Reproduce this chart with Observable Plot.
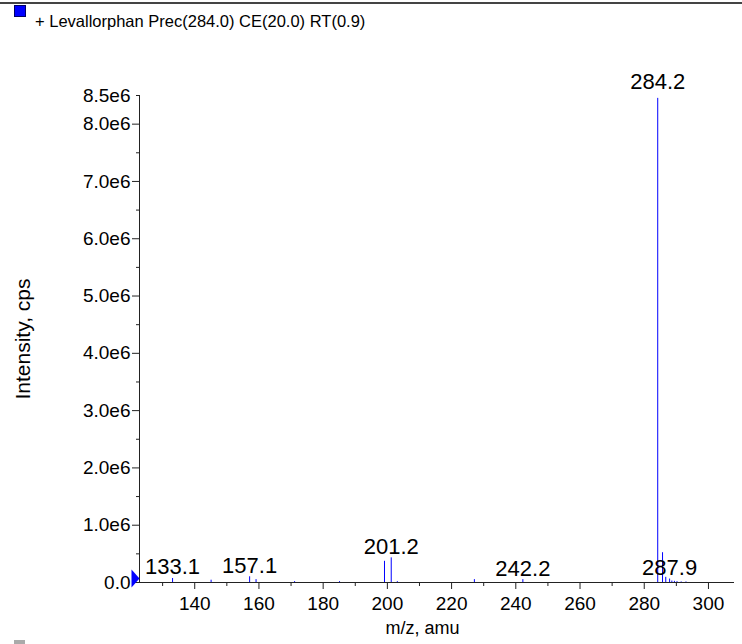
<!DOCTYPE html>
<html><head><meta charset="utf-8">
<script src="https://cdn.jsdelivr.net/npm/d3@7"></script>
<script src="https://cdn.jsdelivr.net/npm/@observablehq/plot@0.6"></script>
<style>
body{margin:0;background:#fff;font-family:"Liberation Sans",Arial,Helvetica,sans-serif;}
#wrap{position:relative;width:742px;height:644px;overflow:hidden;background:#fff;}
#topline{position:absolute;left:0;top:2px;width:742px;height:2px;background:#444;}
#sw{position:absolute;left:14px;top:5px;width:10px;height:10px;background:#0000ff;border:1px solid #000066;}
#sw2{position:absolute;left:14px;top:640px;width:11px;height:4px;background:#aaa;}
#title{position:absolute;left:35px;top:11px;font-size:16.5px;line-height:20px;color:#000;white-space:nowrap;}
#chart{position:absolute;left:0;top:0;}
</style></head><body>
<div id="wrap">
  <div id="topline"></div>
  <div id="sw"></div>
  <div id="title">+ Levallorphan Prec(284.0) CE(20.0) RT(0.9)</div>
  <div id="sw2"></div>
  <div id="chart"></div>
</div>
<script>
// peaks
const mz        = [133.1, 145.1, 157.1, 159.1, 171.1, 185.1, 199.1, 201.2, 203.1, 227.1, 242.2, 284.2, 285.7, 286.7, 287.9, 288.6, 289.4, 290.2, 291.5, 293.0];
const intensity = [7e4,   4e4,   1.0e5, 5e4,   1.5e4, 1.5e4, 3.7e5, 4.3e5, 1.5e4, 5e4,   5e4,   8.45e6, 5.2e5, 9e4,  6e4,   2.5e4, 2e4,   1.5e4, 1e4,   1e4];
// annotated peaks
const labelMz        = [133.1, 157.1, 201.2, 242.2, 284.2, 287.9];
const labelIntensity = [7e4,   1.0e5, 4.3e5, 5e4,   8.45e6, 6e4];
// ticks
const xDomain = [122.8, 307.8];
const yDomain = [0, 8.5e6];
const xMajorTicks = [140, 160, 180, 200, 220, 240, 260, 280, 300];
const xMinorTicks = [130, 150, 170, 190, 210, 230, 250, 270, 290];
const yMajorTicks = [0, 1e6, 2e6, 3e6, 4e6, 5e6, 6e6, 7e6, 8e6];
const yMinorTicks = [0.5e6, 1.5e6, 2.5e6, 3.5e6, 4.5e6, 5.5e6, 6.5e6, 7.5e6, 8.5e6];
const yLabelTicks = [0, 1e6, 2e6, 3e6, 4e6, 5e6, 6e6, 7e6, 8e6, 8.5e6];
const yFmt = d => d === 0 ? "0.0" : (d / 1e6).toFixed(1) + "e6";

const peaks = mz.map((m, i) => ({mz: m, intensity: intensity[i]}));
const labels = labelMz.map((m, i) => ({mz: m, intensity: labelIntensity[i]}));
const maxI = d3.max(labelIntensity);

const tri = {draw(ctx) { ctx.moveTo(-4, -9); ctx.lineTo(4, 0); ctx.lineTo(-4, 9); ctx.closePath(); }};

const chart = Plot.plot({
  width: 742, height: 644,
  marginLeft: 139, marginRight: 9, marginTop: 95, marginBottom: 62,
  style: {fontFamily: '"Liberation Sans", Arial, Helvetica, sans-serif', fontSize: "19px", color: "#000", background: "transparent"},
  x: {domain: xDomain},
  y: {domain: yDomain},
  marks: [
    Plot.axisX({ticks: xMinorTicks, tickSize: 4, tickFormat: () => "", label: null, stroke: "#222"}),
    Plot.axisX({ticks: xMajorTicks, tickSize: 7, tickPadding: 7, tickFormat: d => String(d), label: null, stroke: "#222", fontSize: 19}),
    Plot.axisY({ticks: yMinorTicks, tickSize: 3, tickFormat: () => "", label: null, stroke: "#222"}),
    Plot.axisY({ticks: yMajorTicks, tickSize: 7, tickFormat: () => "", label: null, stroke: "#222"}),
    Plot.axisY({ticks: yLabelTicks, tickSize: 0, tickPadding: 9, tickFormat: yFmt, label: null, fontSize: 19}),
    Plot.ruleX(peaks, {x: "mz", y1: 0, y2: "intensity", stroke: "#0000ff", strokeWidth: 1}),
    Plot.frame({anchor: "left", stroke: "#222"}),
    Plot.frame({anchor: "bottom", stroke: "#222"}),
    Plot.text(labels.filter(d => d.intensity < maxI), {x: "mz", y: "intensity", text: d => d.mz.toFixed(1), lineAnchor: "bottom", dy: -4, fill: "#000", fontSize: 22}),
    Plot.text(labels.filter(d => d.intensity === maxI), {x: "mz", y: "intensity", text: d => d.mz.toFixed(1), lineAnchor: "bottom", dy: -9, fill: "#000", fontSize: 22}),
    Plot.dot([0], {frameAnchor: "bottom-left", symbol: tri, fill: "#0000ff", stroke: "none", dx: -4, dy: -4}),
    Plot.text(["Intensity, cps"], {frameAnchor: "left", text: d => d, rotate: -90, textAnchor: "middle", dx: -116, fill: "#000", fontSize: 21}),
    Plot.text(["m/z, amu"], {frameAnchor: "bottom", text: d => d, textAnchor: "middle", dx: -14, dy: 51, fill: "#000", fontSize: 18})
  ]
});
document.getElementById("chart").appendChild(chart);
</script>
</body></html>
